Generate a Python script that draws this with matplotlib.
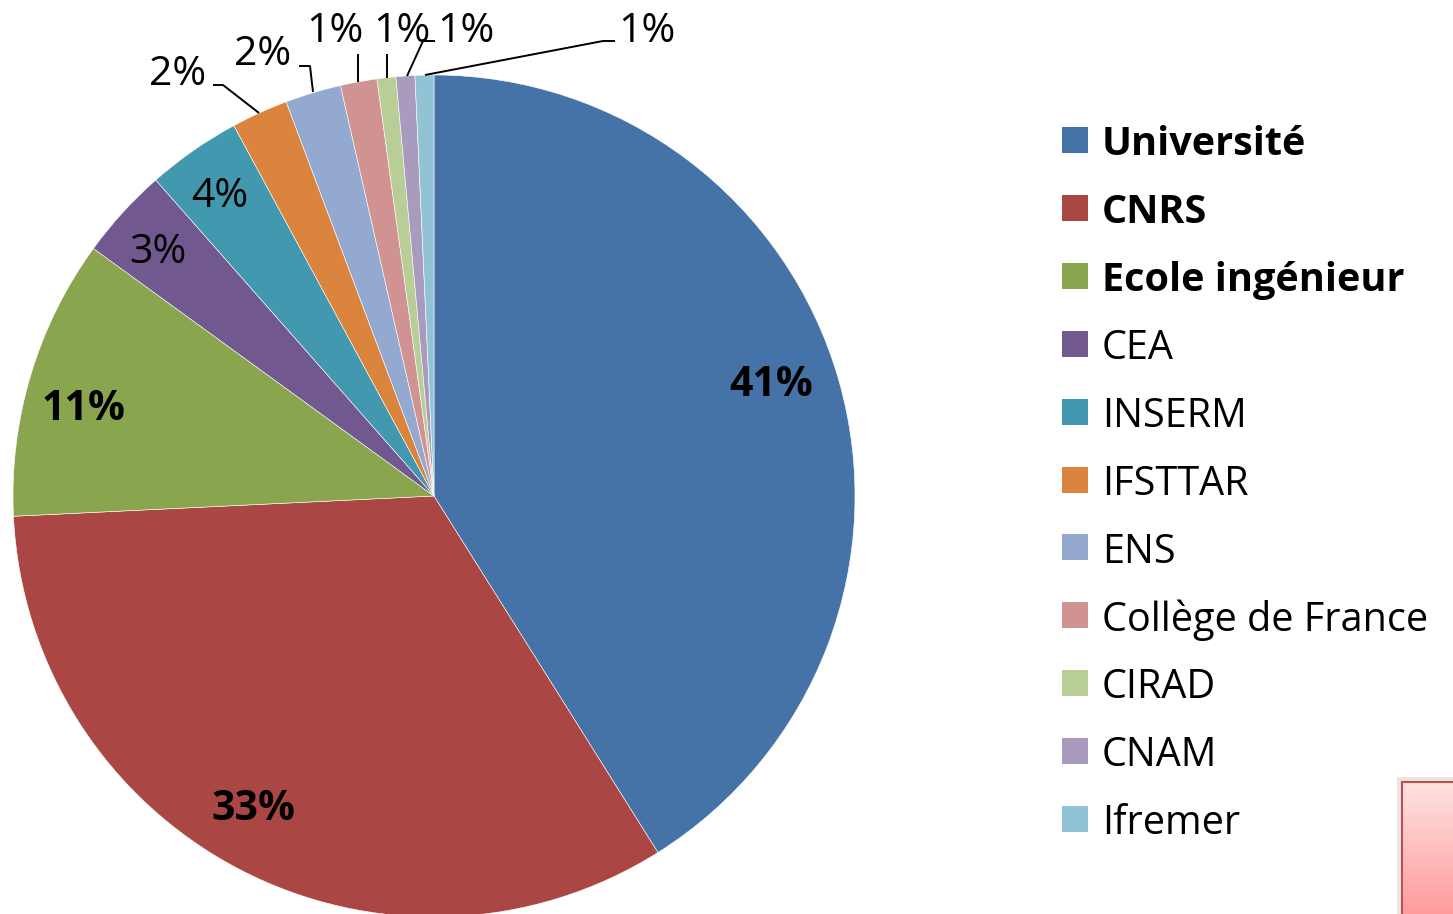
import matplotlib
matplotlib.use("Agg")
import matplotlib.pyplot as plt
from matplotlib.patches import Rectangle
from matplotlib.colors import LinearSegmentedColormap
import numpy as np

categories = ["Université", "CNRS", "Ecole ingénieur", "CEA", "INSERM", "IFSTTAR",
              "ENS", "Collège de France", "CIRAD", "CNAM", "Ifremer"]
values = [41.0, 33.1, 10.75, 3.5, 3.6, 2.17, 2.14, 1.4, 0.72, 0.72, 0.72]
pct_labels = ["41%", "33%", "11%", "3%", "4%", "2%", "2%", "1%", "1%", "1%", "1%"]
bold_flags = [True, True, True, False, False, False, False, False, False, False, False]
colors = ["#4572A7", "#AA4643", "#89A54E", "#71588F", "#4198AF", "#DB843D",
          "#93A9CF", "#D19392", "#B9CD96", "#A99BBD", "#92C3D5"]

W, H = 1453, 914
FONT = "Open Sans"
fig = plt.figure(figsize=(W / 100, H / 100), dpi=100)
ax = fig.add_axes([0, 0, 1, 1])

cx, cy, R = 434, H - 496, 421
wedges, _ = ax.pie(values, colors=colors, startangle=90, counterclock=False,
                   center=(cx, cy), radius=R,
                   wedgeprops=dict(edgecolor="white", linewidth=0.4))
ax.set_xlim(0, W)
ax.set_ylim(0, H)
ax.set_aspect("equal")
ax.axis("off")

# label positions (pixel coordinates, y from top)
inside = {0: (771, 380), 1: (253, 805), 2: (83, 405), 3: (158, 248), 4: (220, 192)}
outside = {5: (178, 70), 6: (263, 50), 7: (335, 27), 8: (402, 27), 9: (466, 27), 10: (647, 27)}
leaders = {
    5: [(213, 85), (223, 85), (259, 113)],
    6: [(299, 66), (310, 66), (313, 92)],
    7: [(358, 54), (358, 82)],
    8: [(387, 54), (387, 78)],
    9: [(435, 41), (423, 41), (407, 76)],
    10: [(615, 41), (603, 41), (425, 75)],
}
fs_pct = 29.5
fs_leg = 28.5
for i, lab in enumerate(pct_labels):
    pos = inside.get(i, outside.get(i))
    ax.text(pos[0], H - pos[1], lab, ha="center", va="center_baseline", fontsize=fs_pct,
            family=FONT, fontweight="bold" if bold_flags[i] else "normal", color="black")
for i, pts in leaders.items():
    xs = [p[0] for p in pts]
    ys = [H - p[1] for p in pts]
    ax.plot(xs, ys, color="black", lw=1.4, solid_capstyle="butt")

# legend
y0, dy = 140, 67.9
for i, (name, col) in enumerate(zip(categories, colors)):
    yc = y0 + i * dy
    ax.add_patch(Rectangle((1062, H - yc - 13), 26, 26, facecolor=col, edgecolor="none"))
    ax.text(1102, H - yc, name, ha="left", va="center_baseline", fontsize=fs_leg, family=FONT,
            fontweight="bold" if bold_flags[i] else "normal", color="black")

# pink box in bottom-right corner
grad = np.linspace(0, 1, 100).reshape(-1, 1)
cmap = LinearSegmentedColormap.from_list("pk", ["#FF9C9C", "#FFE2E2"])
ax.add_patch(Rectangle((1397, 0), 60, H - 781 + 4, facecolor="#D8D8D8", edgecolor="none", alpha=0.6))
ax.imshow(grad, extent=(1402, W + 2, 0, H - 782), origin="lower", cmap=cmap, aspect="auto", zorder=3)
ax.add_patch(Rectangle((1402, -5), 60, H - 782 + 5, facecolor="none", edgecolor="#C0504D", lw=1.5, zorder=4))
ax.set_xlim(0, W)
ax.set_ylim(0, H)

fig.savefig("out.png", dpi=100)
